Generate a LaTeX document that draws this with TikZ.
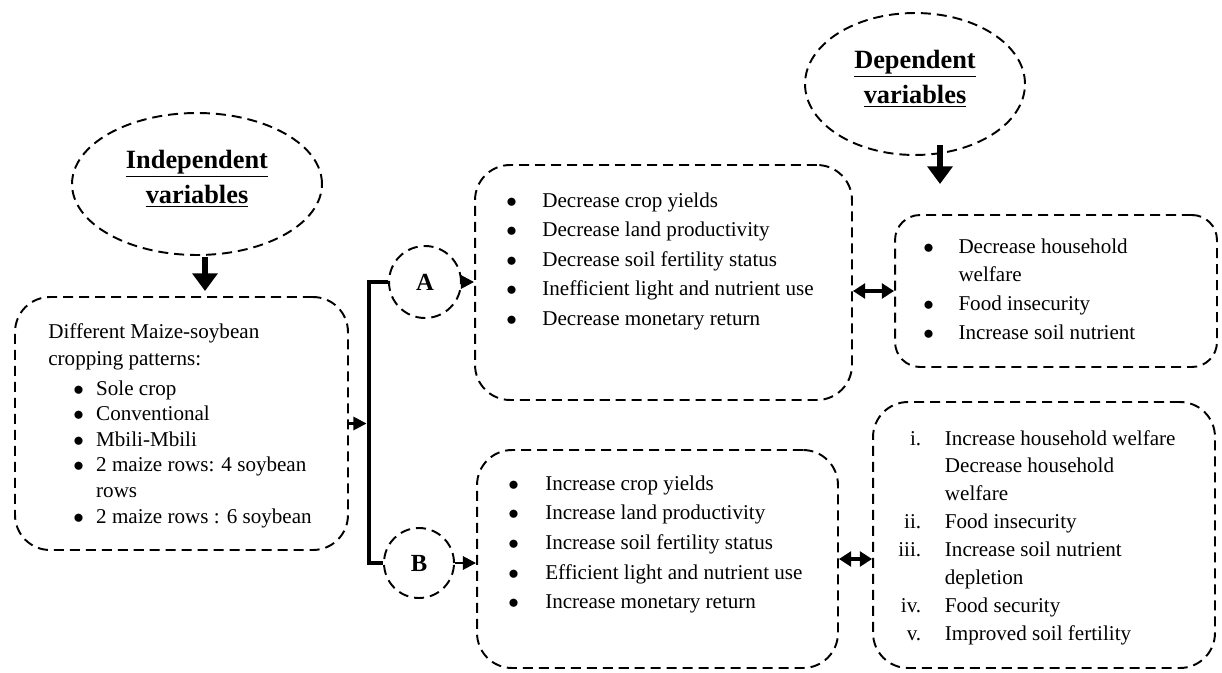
\documentclass[tikz,border=0pt]{standalone}
\usepackage{fontspec}
\setmainfont{Liberation Serif}
\usepackage{tikz}
\usetikzlibrary{arrows.meta,shapes.geometric}
\tikzset{
    dsh/.style={draw, line width=1.1pt, dash pattern=on 5.7pt off 3.4pt},
    box/.style={dsh, rounded corners=0.7cm, inner sep=0pt},
    oval/.style={dsh, ellipse, inner sep=0pt, align=center, font=\fontsize{15}{20}\selectfont\bfseries},
    letter/.style={dsh, circle, inner sep=0pt, font=\fontsize{14}{16}\selectfont\bfseries},
    txt/.style={inner sep=0pt, anchor=base west, font=\fontsize{12}{#1}\selectfont},
    bigarrow/.style={-{Triangle[length=10pt,width=14pt]}, line width=3.8pt},
    arrow/.style={-{Triangle[length=7.5pt,width=7.5pt]}, line width=1.5pt},
    both/.style={{Triangle[length=7pt,width=8.5pt]}-{Triangle[length=7pt,width=8.5pt]}, line width=2pt},
    bracket/.style={line width=2.8pt}
    }
\newcommand{\rn}[1]{\makebox[13pt][r]{#1}}
\newcommand{\bul}{$\bullet$}

\begin{document}
\begin{tikzpicture}[x=0.02cm,y=-0.02cm]
        \useasboundingbox (0,0) rectangle (1222,672);

        % ovals
        \node[oval, minimum width=5cm, minimum height=2.84cm] (ind) at (197,184) {\underline{Independent}\\\underline{variables}\\[-12pt]};
        \node[oval, minimum width=4.4cm, minimum height=2.84cm] (dep) at (915,84) {\underline{Dependent}\\\underline{variables}\\[-12pt]};

        % boxes
        \node[box, minimum width=6.66cm, minimum height=5.06cm] (src) at (181.5,423.5) {};
        \node[box, minimum width=7.54cm, minimum height=4.7cm] (abox) at (663.5,282.5) {};
        \node[box, minimum width=7.22cm, minimum height=4.36cm] (bbox) at (657.5,559) {};
        \node[box, rounded corners=0.5cm, minimum width=6.44cm, minimum height=3.04cm] (dbox) at (1056,291) {};
        \node[box, minimum width=6.84cm, minimum height=5.32cm] (ebox) at (1044,535) {};

        % A and B
        \node[letter, minimum size=1.44cm] (A) at (425,282) {A};
        \node[letter, minimum size=1.4cm] (B) at (419,563) {B};

        % texts
        \node[txt=15.9] (srchead) at (48,338) {\begin{tabular}[t]{@{}l@{}}Different Maize-soybean\\cropping patterns:\end{tabular}};
        \node[txt=14.6] (srclist) at (73,395) {\begin{tabular}[t]{@{}p{13pt}@{}l@{}}
            \bul & Sole crop\\
            \bul & Conventional\\
            \bul & Mbili-Mbili\\
            \bul & 2 maize rows: 4 soybean\\
                 & rows\\
            \bul & 2 maize rows : 6 soybean
        \end{tabular}};
        \node[txt=16.8] (alist) at (506,207) {\begin{tabular}[t]{@{}p{20.5pt}@{}l@{}}
            \bul & Decrease crop yields\\
            \bul & Decrease land productivity\\
            \bul & Decrease soil fertility status\\
            \bul & Inefficient light and nutrient use\\
            \bul & Decrease monetary return
        \end{tabular}};
        \node[txt=16.9] (blist) at (508,490) {\begin{tabular}[t]{@{}p{21pt}@{}l@{}}
            \bul & Increase crop yields\\
            \bul & Increase land productivity\\
            \bul & Increase soil fertility status\\
            \bul & Efficient light and nutrient use\\
            \bul & Increase monetary return
        \end{tabular}};
        \node[txt=16.5] (dlist) at (923,253) {\begin{tabular}[t]{@{}p{20pt}@{}l@{}}
            \bul & Decrease household\\
                 & welfare\\
            \bul & Food insecurity\\
            \bul & Increase soil nutrient
        \end{tabular}};
        \node[txt=15.9] (elist) at (898,445) {\begin{tabular}[t]{@{}l@{\hspace{13.5pt}}l@{}}
            \rn{i.}   & Increase household welfare\\
                      & Decrease household\\
                      & welfare\\
            \rn{ii.}  & Food insecurity\\
            \rn{iii.} & Increase soil nutrient\\
                      & depletion\\
            \rn{iv.}  & Food security\\
            \rn{v.}   & Improved soil fertility
        \end{tabular}};

        % arrow ends
        \coordinate (itail) at (205,257);
        \coordinate (itip) at (205,291);
        \coordinate (dtail) at (940,145);
        \coordinate (dtip) at (940,184);
        \coordinate (jn) at (369,423.5);

        % edges
        \draw[bigarrow] (itail) -- (itip);
        \draw[bigarrow] (dtail) -- (dtip);
        \draw[bracket] (A.west) -| (jn) |- (B.west);
        \draw[arrow, shorten >=1.4pt] (src.east) -- (jn);
        \draw[arrow] (A.east) -- (A.east -| abox.west);
        \draw[arrow] (B.east) -- (B.east -| bbox.west);
        \draw[both] (abox.east |- dbox.west) -- (dbox.west);
        \draw[both] (bbox.east) -- (bbox.east -| ebox.west);
    \end{tikzpicture}
\end{document}
